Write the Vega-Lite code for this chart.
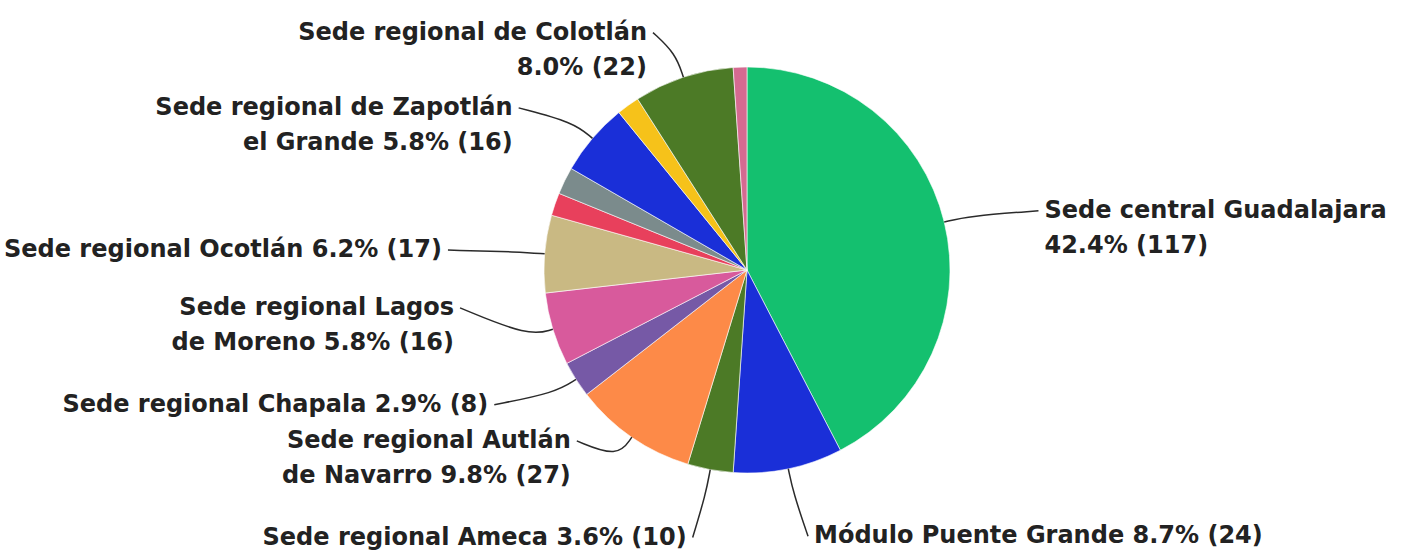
{
  "$schema": "https://vega.github.io/schema/vega-lite/v6.json",
  "width": 1352,
  "height": 540,
  "padding": {"left": 71, "top": 0, "right": 0, "bottom": 15},
  "autosize": {"type": "none"},
  "background": "#ffffff",
  "config": {"view": {"stroke": null}, "font": "DejaVu Sans"},
  "data": {
    "values": [
      {"idx": 1, "name": "Sede central Guadalajara", "value": 117, "label": "Sede central Guadalajara\n42.4% (117)"},
      {"idx": 2, "name": "Módulo Puente Grande", "value": 24, "label": "Módulo Puente Grande 8.7% (24)"},
      {"idx": 3, "name": "Sede regional Ameca", "value": 10, "label": "Sede regional Ameca 3.6% (10)"},
      {"idx": 4, "name": "Sede regional Autlán de Navarro", "value": 27, "label": "Sede regional Autlán\nde Navarro 9.8% (27)"},
      {"idx": 5, "name": "Sede regional Chapala", "value": 8, "label": "Sede regional Chapala 2.9% (8)"},
      {"idx": 6, "name": "Sede regional Lagos de Moreno", "value": 16, "label": "Sede regional Lagos\nde Moreno 5.8% (16)"},
      {"idx": 7, "name": "Sede regional Ocotlán", "value": 17, "label": "Sede regional Ocotlán 6.2% (17)"},
      {"idx": 8, "name": "Otra sede A", "value": 5, "label": null},
      {"idx": 9, "name": "Otra sede B", "value": 6, "label": null},
      {"idx": 10, "name": "Sede regional de Zapotlán el Grande", "value": 16, "label": "Sede regional de Zapotlán\nel Grande 5.8% (16)"},
      {"idx": 11, "name": "Otra sede C", "value": 5, "label": null},
      {"idx": 12, "name": "Sede regional de Colotlán", "value": 22, "label": "Sede regional de Colotlán\n8.0% (22)"},
      {"idx": 13, "name": "Otra sede D", "value": 3, "label": null}
    ]
  },
  "layer": [
    {
      "mark": {"type": "arc", "outerRadius": 203, "stroke": "#ffffff", "strokeWidth": 0.6},
      "encoding": {
        "theta": {"field": "value", "type": "quantitative", "stack": true},
        "order": {"field": "idx", "type": "quantitative"},
        "color": {
          "field": "name",
          "type": "nominal",
          "legend": null,
          "scale": {
            "domain": ["Sede central Guadalajara", "Módulo Puente Grande", "Sede regional Ameca", "Sede regional Autlán de Navarro", "Sede regional Chapala", "Sede regional Lagos de Moreno", "Sede regional Ocotlán", "Otra sede A", "Otra sede B", "Sede regional de Zapotlán el Grande", "Otra sede C", "Sede regional de Colotlán", "Otra sede D"],
            "range": ["#14c06f", "#1a2fd8", "#4c7a26", "#fd8a48", "#7659a6", "#d85a9c", "#c9b983", "#e8405c", "#7b8b8c", "#1a2fd8", "#f6c21a", "#4c7a26", "#d56a91"]
          }
        }
      }
    },
    {
      "transform": [
        {"joinaggregate": [{"op": "sum", "field": "value", "as": "total"}]},
        {"window": [{"op": "sum", "field": "value", "as": "cum"}], "sort": [{"field": "idx"}], "frame": [null, 0]},
        {"filter": "datum.label != null"},
        {"calculate": "2*PI*(datum.cum - datum.value/2)/datum.total", "as": "mid"},
        {"calculate": "sin(datum.mid)", "as": "sx"},
        {"calculate": "-cos(datum.mid)", "as": "sy"},
        {"calculate": "length(split(datum.label, '\\n'))", "as": "n"},
        {"calculate": "abs(datum.sy) > 0.97 ? 272 : 250", "as": "ry"},
        {"calculate": "300*datum.sx", "as": "lx"},
        {"calculate": "datum.ry*datum.sy - (datum.sy > 0 ? (datum.n - 1)*35 : 0)", "as": "ty"},
        {"calculate": "203*datum.sx", "as": "ax"},
        {"calculate": "203*datum.sy", "as": "ay"},
        {"calculate": "228*datum.sx", "as": "bx"},
        {"calculate": "228*datum.sy", "as": "by"},
        {"fold": ["ax", "bx", "lx"], "as": ["k", "px"]},
        {"calculate": "datum.k == 'ax' ? datum.ay : (datum.k == 'bx' ? datum.by : datum.ty)", "as": "py"},
        {"calculate": "datum.k == 'ax' ? 0 : (datum.k == 'bx' ? 1 : 2)", "as": "step"}
      ],
      "mark": {"type": "line", "interpolate": "basis", "color": "#2b2b2b", "strokeWidth": 1.5},
      "encoding": {
        "x": {"field": "px", "type": "quantitative", "scale": {"domain": [-676, 676], "nice": false, "zero": false}, "axis": null},
        "y": {"field": "py", "type": "quantitative", "scale": {"domain": [-270, 270], "reverse": true, "nice": false, "zero": false}, "axis": null},
        "detail": {"field": "name", "type": "nominal"},
        "order": {"field": "step", "type": "quantitative"}
      }
    },
    {
      "transform": [
        {"joinaggregate": [{"op": "sum", "field": "value", "as": "total"}]},
        {"window": [{"op": "sum", "field": "value", "as": "cum"}], "sort": [{"field": "idx"}], "frame": [null, 0]},
        {"filter": "datum.label != null"},
        {"calculate": "2*PI*(datum.cum - datum.value/2)/datum.total", "as": "mid"},
        {"calculate": "sin(datum.mid)", "as": "sx"},
        {"calculate": "-cos(datum.mid)", "as": "sy"},
        {"calculate": "length(split(datum.label, '\\n'))", "as": "n"},
        {"calculate": "abs(datum.sy) > 0.97 ? 272 : 250", "as": "ry"},
        {"calculate": "300*datum.sx", "as": "lx"},
        {"calculate": "datum.ry*datum.sy - (datum.sy > 0 ? (datum.n - 1)*35 : 0)", "as": "ty"},
        {"filter": "datum.sx > 0"}
      ],
      "mark": {"type": "text", "align": "left", "baseline": "middle", "dx": 6, "lineBreak": "\n", "fontSize": 24, "fontWeight": "bold", "fill": "#222222", "lineHeight": 35},
      "encoding": {
        "x": {"field": "lx", "type": "quantitative", "scale": {"domain": [-676, 676], "nice": false, "zero": false}, "axis": null},
        "y": {"field": "ty", "type": "quantitative", "scale": {"domain": [-270, 270], "reverse": true, "nice": false, "zero": false}, "axis": null},
        "text": {"field": "label", "type": "nominal"}
      }
    },
    {
      "transform": [
        {"joinaggregate": [{"op": "sum", "field": "value", "as": "total"}]},
        {"window": [{"op": "sum", "field": "value", "as": "cum"}], "sort": [{"field": "idx"}], "frame": [null, 0]},
        {"filter": "datum.label != null"},
        {"calculate": "2*PI*(datum.cum - datum.value/2)/datum.total", "as": "mid"},
        {"calculate": "sin(datum.mid)", "as": "sx"},
        {"calculate": "-cos(datum.mid)", "as": "sy"},
        {"calculate": "length(split(datum.label, '\\n'))", "as": "n"},
        {"calculate": "abs(datum.sy) > 0.97 ? 272 : 250", "as": "ry"},
        {"calculate": "300*datum.sx", "as": "lx"},
        {"calculate": "datum.ry*datum.sy - (datum.sy > 0 ? (datum.n - 1)*35 : 0)", "as": "ty"},
        {"filter": "datum.sx < 0"}
      ],
      "mark": {"type": "text", "align": "right", "baseline": "middle", "dx": -6, "lineBreak": "\n", "fontSize": 24, "fontWeight": "bold", "fill": "#222222", "lineHeight": 35},
      "encoding": {
        "x": {"field": "lx", "type": "quantitative", "scale": {"domain": [-676, 676], "nice": false, "zero": false}, "axis": null},
        "y": {"field": "ty", "type": "quantitative", "scale": {"domain": [-270, 270], "reverse": true, "nice": false, "zero": false}, "axis": null},
        "text": {"field": "label", "type": "nominal"}
      }
    }
  ]
}
